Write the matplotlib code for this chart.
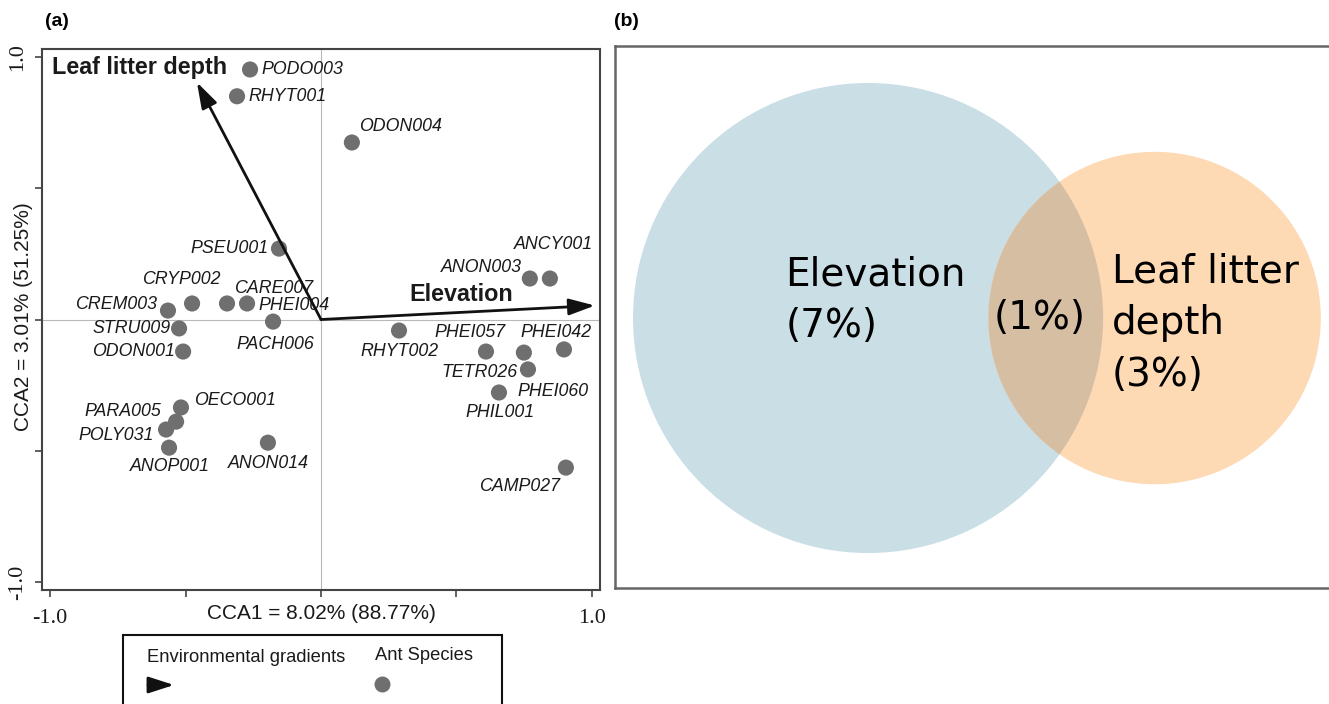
import numpy as np
import matplotlib
matplotlib.use("Agg")
import matplotlib.pyplot as plt
from matplotlib.patches import Circle, Rectangle, FancyArrowPatch
from matplotlib.lines import Line2D

# ---- CCA ordination (panel a) ----
species = ["PODO003", "RHYT001", "ODON004", "PSEU001", "ANON003", "ANCY001",
           "CREM003", "CRYP002", "CARE007", "PHEI004", "PACH006", "STRU009",
           "ODON001", "RHYT002", "PHEI057", "PHEI060", "PHEI042", "TETR026",
           "PHIL001", "OECO001", "PARA005", "POLY031", "ANOP001", "ANON014",
           "CAMP027"]
cca1 = [-0.262, -0.310, 0.114, -0.155, 0.771, 0.845,
        -0.565, -0.476, -0.347, -0.273, -0.177, -0.524,
        -0.509, 0.288, 0.609, 0.749, 0.897, 0.764,
        0.657, -0.517, -0.535, -0.572, -0.561, -0.196,
        0.904]
cca2 = [0.952, 0.850, 0.674, 0.270, 0.156, 0.156,
        0.034, 0.061, 0.061, 0.061, -0.008, -0.034,
        -0.122, -0.042, -0.122, -0.126, -0.114, -0.190,
        -0.278, -0.335, -0.389, -0.419, -0.488, -0.469,
        -0.564]

env_names = ["Elevation", "Leaf litter depth"]
env_cca1 = [1.011, -0.458]
env_cca2 = [0.053, 0.903]

xlabel = "CCA1 = 8.02% (88.77%)"
ylabel = "CCA2 = 3.01% (51.25%)"

# ---- variation partitioning (panel b) ----
venn_names = ["Elevation", "Leaf litter\ndepth"]
venn_unique = [7, 3]
venn_shared = 1

# label placement: offset in pixels (dx, dy) and horizontal alignment
label_place = {
    "PODO003": (11, 0, "left"), "RHYT001": (11, 0, "left"),
    "ODON004": (7, 16, "left"), "PSEU001": (-10, 0, "right"),
    "ANON003": (-8, 11, "right"), "ANCY001": (4, 34, "center"),
    "CREM003": (-11, 6, "right"), "CRYP002": (-11, 24, "center"),
    "CARE007": (7, 15, "left"), "PHEI004": (11, -2, "left"),
    "PACH006": (2, -23, "center"), "STRU009": (-8, 0, "right"),
    "ODON001": (-8, 0, "right"), "RHYT002": (1, -21, "center"),
    "PHEI057": (-16, 19, "center"), "PHEI060": (29, -39, "center"),
    "PHEI042": (-8, 17, "center"), "TETR026": (-10, -3, "right"),
    "PHIL001": (1, -20, "center"), "OECO001": (13, 7, "left"),
    "PARA005": (-15, 10, "right"), "POLY031": (-12, -6, "right"),
    "ANOP001": (1, -19, "center"), "ANON014": (0, -21, "center"),
    "CAMP027": (-6, -19, "right"),
}
env_label_place = {"Elevation": (-185, 11, "left"),
                   "Leaf litter depth": (-145, 15, "left")}

W, H = 1329, 704
fig = plt.figure(figsize=(W / 100, H / 100), dpi=100)
SANS = ["Liberation Sans", "DejaVu Sans"]
SERIF = ["Liberation Serif", "DejaVu Serif"]


def fx(px):
    return px / W


def fy(py):
    return 1 - py / H


# ---------------- panel (a) ----------------
ax = fig.add_axes([fx(42), fy(590), (600 - 42) / W, (590 - 49) / H])
ax.set_xlim(-1.03, 1.03)
ax.set_ylim(-1.03, 1.03)
ax.axhline(0, color="#b8b8b8", lw=0.8, zorder=0)
ax.axvline(0, color="#b8b8b8", lw=0.8, zorder=0)

ax.scatter(cca1, cca2, s=135, color="#6f6f6f", edgecolor="none", zorder=3)
for name, x, y in zip(species, cca1, cca2):
    dx, dy, ha = label_place[name]
    ax.annotate(name, (x, y), xytext=(dx, dy), textcoords="offset pixels",
                ha=ha, va="center", fontsize=12.8, style="italic",
                family=SANS, color="#1a1a1a", zorder=4)

for name, x, y in zip(env_names, env_cca1, env_cca2):
    ax.annotate("", xy=(x, y), xytext=(0, 0),
                arrowprops=dict(arrowstyle="-|>,head_length=0.63,head_width=0.2",
                                mutation_scale=25, lw=2, color="#111111",
                                shrinkA=0, shrinkB=0), zorder=5)
    dx, dy, ha = env_label_place[name]
    ax.annotate(name, (x, y), xytext=(dx, dy), textcoords="offset pixels",
                ha=ha, va="center", fontsize=16.8, fontweight="bold",
                family=SANS, color="#1a1a1a", zorder=6)

for sp in ax.spines.values():
    sp.set_color("#444444")
    sp.set_linewidth(1.5)
ax.set_xticks([-1, -0.5, 0, 0.5, 1])
ax.set_yticks([-1, -0.5, 0, 0.5, 1])
ax.set_xticklabels(["-1.0", "", "", "", "1.0"], family=SERIF, fontsize=16)
ax.set_yticklabels(["-1.0", "", "", "", "1.0"], family=SERIF, fontsize=16,
                   rotation=90, va="center")
ax.tick_params(axis="both", direction="out", length=5, width=1.2,
               color="#444444", labelcolor="#1a1a1a")
ax.tick_params(axis="x", pad=9)
ax.tick_params(axis="y", pad=6)
ax.text(0.5, -0.044, xlabel, transform=ax.transAxes, ha="center", va="center",
        fontsize=15, family=SANS, color="#1a1a1a")
ax.text(-0.034, 0.505, ylabel, transform=ax.transAxes, ha="center",
        va="center", rotation=90, fontsize=15, family=SANS, color="#1a1a1a")

fig.text(fx(45), fy(22), "(a)", ha="left", va="center", fontsize=14,
         fontweight="bold", family=SANS)
fig.text(fx(614), fy(22), "(b)", ha="left", va="center", fontsize=14,
         fontweight="bold", family=SANS)

# legend box below panel (a)
fig.patches.append(Rectangle((fx(123), fy(720)), (502 - 123) / W,
                             (720 - 635) / H, transform=fig.transFigure,
                             fill=False, lw=1.5, edgecolor="#111111",
                             clip_on=False))
fig.text(fx(147), fy(657), "Environmental gradients", ha="left",
         va="center", fontsize=13.2, family=SANS, color="#1a1a1a")
fig.text(fx(375), fy(655), "Ant Species", ha="left", va="center",
         fontsize=13.2, family=SANS, color="#1a1a1a")
fig.patches.append(FancyArrowPatch(
    (fx(148), fy(685)), (fx(174), fy(685)), transform=fig.transFigure,
    arrowstyle="-|>,head_length=0.62,head_width=0.2", mutation_scale=25,
    lw=2, color="#111111", shrinkA=0, shrinkB=0))
fig.lines.append(Line2D([fx(382)], [fy(684)], transform=fig.transFigure,
                        marker="o", markersize=11.5, color="#6f6f6f",
                        mec="none"))

# ---------------- panel (b) ----------------
bx = fig.add_axes([fx(615), fy(588), (1345 - 615) / W, (588 - 46) / H])
bx.set_xlim(-1.718, 3.238)
bx.set_ylim(-1.833, 1.847)
bx.set_xticks([])
bx.set_yticks([])
for sp in bx.spines.values():
    sp.set_color("#666666")
    sp.set_linewidth(1.8)

# circle areas proportional to explained variation; centre distance gives
# an overlap area equal to the shared fraction
tot1 = venn_unique[0] + venn_shared
tot2 = venn_unique[1] + venn_shared
r1 = np.sqrt(tot1 / np.pi)
r2 = np.sqrt(tot2 / np.pi)


def lens_area(d):
    a1 = (d * d + r1 * r1 - r2 * r2) / (2 * d)
    a2 = d - a1
    s1 = r1 * r1 * np.arccos(np.clip(a1 / r1, -1, 1)) - a1 * np.sqrt(max(r1 * r1 - a1 * a1, 0))
    s2 = r2 * r2 * np.arccos(np.clip(a2 / r2, -1, 1)) - a2 * np.sqrt(max(r2 * r2 - a2 * a2, 0))
    return s1 + s2


lo, hi = abs(r1 - r2) + 1e-9, r1 + r2
for _ in range(80):
    mid = 0.5 * (lo + hi)
    if lens_area(mid) > venn_shared:
        lo = mid
    else:
        hi = mid
dist = 0.5 * (lo + hi)

c1 = (0.0, 0.0)
c2 = (dist, 0.0)
bx.add_patch(Circle(c1, r1, color="#cadee6", ec="none", zorder=1))
orange = Circle(c2, r2, color="#fdd9b4", ec="none", zorder=2)
bx.add_patch(orange)
shared = Circle(c1, r1, color="#d6bea3", ec="none", zorder=3)
bx.add_patch(shared)
shared.set_clip_path(orange)

VENN = ["DejaVu Sans"]
bx.text(-0.563, 0.122, f"{venn_names[0]}\n({venn_unique[0]}%)", ha="left",
        va="center", fontsize=28, family=VENN, linespacing=1.45, zorder=5)
bx.text(1.163, 0.0, f"({venn_shared}%)", ha="center", va="center",
        fontsize=28, family=VENN, zorder=5)
bx.text(1.657, -0.034, f"{venn_names[1]}\n({venn_unique[1]}%)", ha="left",
        va="center", fontsize=28, family=VENN, linespacing=1.45, zorder=5)

fig.savefig("out.png", dpi=100)
